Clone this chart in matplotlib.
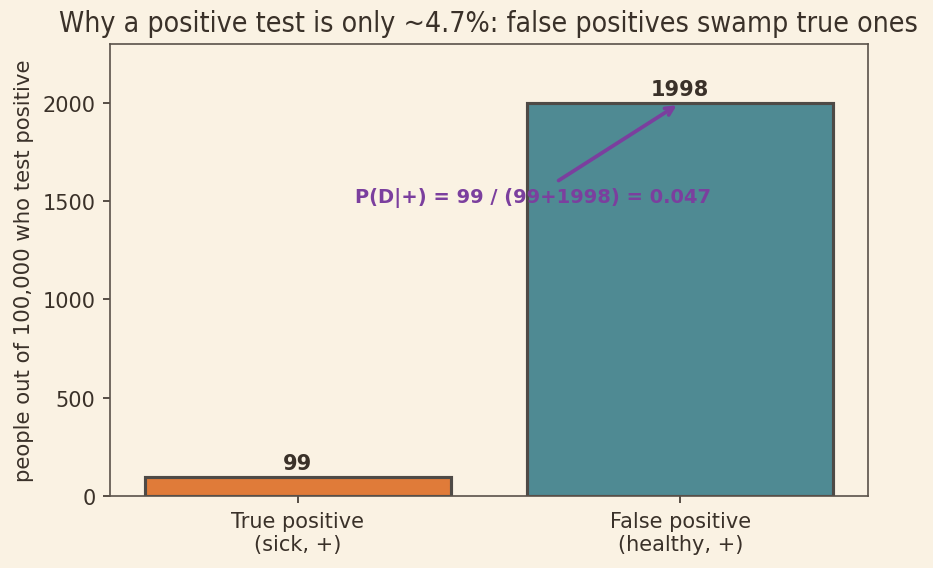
import matplotlib.pyplot as plt

# data
categories = ['True positive\n(sick, +)', 'False positive\n(healthy, +)']
counts = [99, 1998]
bar_colors = ['#E07B39', '#4F8A93']

bg = '#FAF2E3'
ink = '#3A3129'

plt.rcParams['font.family'] = 'DejaVu Sans'
fig, ax = plt.subplots(figsize=(6.22, 3.793), dpi=150)
fig.patch.set_facecolor(bg)
ax.set_facecolor(bg)

x = range(len(categories))
bars = ax.bar(x, counts, width=0.8, color=bar_colors, edgecolor='#4E4A46', linewidth=1.5)

for xi, c in zip(x, counts):
    ax.text(xi, c + 20, str(c), ha='center', va='bottom', fontsize=10,
            fontweight='bold', color=ink)

ax.set_xticks(list(x))
ax.set_xticklabels(categories, fontsize=10, color=ink)
ax.set_ylim(0, max(counts) * 1.15)
ax.set_ylabel('people out of 100,000 who test positive', fontsize=10.2, color=ink)
ax.tick_params(colors=ink, labelsize=10)
for s in ax.spines.values():
    s.set_color('#5A524A')

ax.set_title('Why a positive test is only ~4.7%: false positives swamp true ones',
             fontsize=13.6, color=ink, fontstretch='condensed')

ax.annotate('P(D|+) = 99 / (99+1998) = 0.047', xy=(1, counts[1]),
            xytext=(0.615, 1470), ha='center', va='bottom', fontsize=9.35,
            fontweight='bold', color='#7B3F9E',
            arrowprops=dict(arrowstyle='->', color='#7B3F9E', lw=1.8))

fig.subplots_adjust(left=0.118, right=0.93, top=0.921, bottom=0.126)
fig.savefig('out.png', dpi=150, facecolor=bg)
